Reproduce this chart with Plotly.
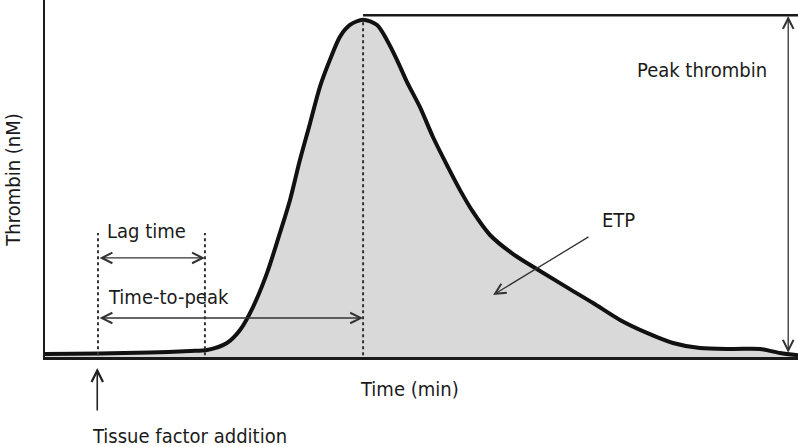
import plotly.graph_objects as go

# Thrombin generation curve
time_min = [0, 3.65, 6.97, 9.63, 10.76, 12.08, 12.95, 13.81, 14.74, 15.60, 16.27, 16.93, 17.60,
            18.26, 18.92, 19.59, 20.25, 21.12, 22.05, 22.71, 23.37, 24.04, 24.90, 25.76,
            26.69, 27.56, 28.42, 29.55, 31.08, 32.87, 34.66, 36.39, 38.18, 39.97, 41.70,
            43.49, 45.68, 47.48, 48.81, 50.0]
thrombin_nM = [3.4, 3.9, 5.0, 6.7, 7.8, 15.7, 30.3, 56, 94, 139, 176, 221, 262,
               303, 333, 359, 372, 378, 372, 355, 333, 308, 280, 246.5,
               215, 187, 162.5, 136.7, 115.4, 96.4, 78, 60.5, 41.5, 27, 15.7,
               10, 9, 9, 4.5, 2.0]

lag_start = 3.52
lag_end = 10.62
peak_time = 21.12
peak_value = 383
x_max = 50
y_max = 400

font_family = "DejaVu Sans Condensed, Liberation Sans, Arial, sans-serif"
txt = "#1a1a1a"
line_col = "#1a1a1a"

fig = go.Figure()
fig.add_trace(go.Scatter(
    x=time_min, y=thrombin_nM, mode="lines", fill="tozeroy",
    fillcolor="#d9d9d9", line=dict(color="#111111", width=4, shape="spline", smoothing=0.8),
    hoverinfo="skip", showlegend=False))

shapes = []
# dotted vertical markers
for xv, ytop in [(lag_start, 139), (lag_end, 139), (peak_time, peak_value - 4)]:
    shapes.append(dict(type="line", xref="x", yref="y", x0=xv, x1=xv, y0=2, y1=ytop,
                       line=dict(color="#333333", width=2, dash="dot")))
# peak horizontal line
shapes.append(dict(type="line", xref="x", yref="y", x0=peak_time, x1=x_max, y0=peak_value, y1=peak_value,
                   line=dict(color=line_col, width=2.5)))

annotations = []
def double_arrow(x0, y0, x1, y1):
    annotations.append(dict(x=x1, y=y1, ax=x0, ay=y0, xref="x", yref="y", axref="x", ayref="y",
                            text="", showarrow=True, arrowhead=5, startarrowhead=5,
                            arrowside="end+start", arrowsize=1.6, startarrowsize=1.6,
                            arrowwidth=1.3, arrowcolor="#333333"))

double_arrow(lag_start, 111, lag_end, 111)
double_arrow(lag_start, 43.7, peak_time, 43.7)
double_arrow(49.35, 3, 49.35, peak_value - 1)

# ETP arrow
annotations.append(dict(x=29.75, y=69.5, ax=36.19, ay=135.6, xref="x", yref="y", axref="x", ayref="y",
                        text="", showarrow=True, arrowhead=5, arrowsize=1.6, arrowwidth=1.3,
                        arrowcolor="#333333"))
# Tissue factor arrow (below axis)
annotations.append(dict(x=lag_start - 0.05, y=-0.031, xref="x", yref="paper", ax=0, ay=44,
                        text="", showarrow=True, arrowhead=5, arrowsize=1.4, arrowwidth=1.6,
                        arrowcolor="#222222"))

def label(text, x, y, xref="x", yref="y", xanchor="left", angle=0):
    annotations.append(dict(text=text, x=x, y=y, xref=xref, yref=yref, xanchor=xanchor,
                            yanchor="middle", showarrow=False, textangle=angle,
                            font=dict(family=font_family, size=20, color=txt)))

label("Lag time", 4.0, 141)
label("Time-to-peak", 4.05, 67)
label("Peak thrombin", 48.1, 321.6, xanchor="right")
label("ETP", 38.05, 153.5, xanchor="center")
label("Time (min)", 24.17, -0.09, yref="paper", xanchor="center")
label("Tissue factor addition", 3.0, -0.222, yref="paper")
label("Thrombin (nM)", -0.042, 198, xref="paper", xanchor="center", angle=-90)

fig.update_layout(
    width=798, height=447,
    margin=dict(l=45, r=0, t=0, b=90),
    paper_bgcolor="white", plot_bgcolor="white",
    shapes=shapes, annotations=annotations,
    xaxis=dict(range=[0, x_max], showgrid=False, zeroline=False, showticklabels=False, ticks="",
               showline=True, linecolor=line_col, linewidth=3),
    yaxis=dict(range=[0, y_max], showgrid=False, zeroline=False, showticklabels=False, ticks="",
               showline=True, linecolor=line_col, linewidth=2),
    showlegend=False,
)

fig.write_html("out.html", config={"displayModeBar": False},
               post_script="document.body.style.margin='0';")
